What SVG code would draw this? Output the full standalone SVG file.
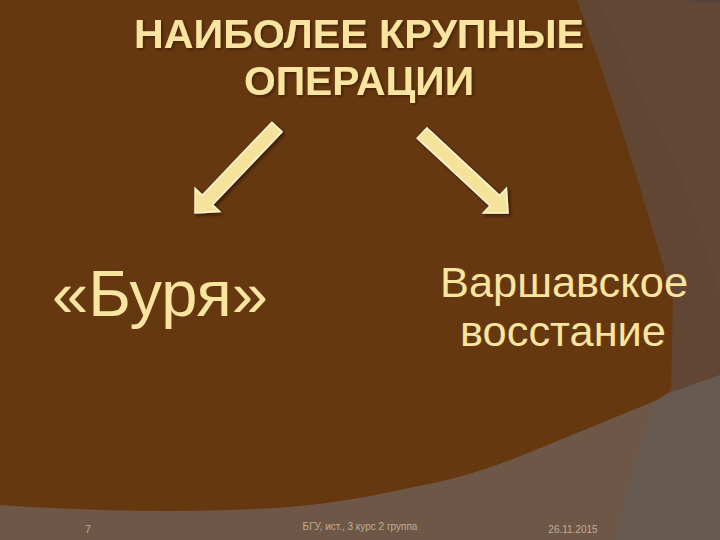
<svg xmlns="http://www.w3.org/2000/svg" width="720" height="540" viewBox="0 0 720 540">
<defs>
<style>
.t{font-family:"Liberation Sans",Arial,sans-serif;fill:#f9e4a0}
.title{font-weight:bold;font-size:40px}
.foot{font-family:"Liberation Sans",Arial,sans-serif;font-size:10px;fill:#bfae98}
.arrow{fill:#f6e39b;stroke:#fff6d6;stroke-width:1.5;stroke-linejoin:miter}
</style>
<filter id="sh" x="-20%" y="-20%" width="140%" height="140%">
<feDropShadow dx="2" dy="2" stdDeviation="1.5" flood-color="#2a1605" flood-opacity="0.7"/>
</filter>
<filter id="tsh" x="-5%" y="-20%" width="110%" height="140%">
<feDropShadow dx="1.5" dy="1.5" stdDeviation="0.8" flood-color="#2a1605" flood-opacity="0.6"/>
</filter>
</defs>
<g id="background">
<rect width="720" height="540" fill="#6e5746"/>
<path d="M540,0 H720 V375 L655,400 L540,438 Z" fill="#614733"/>
<path d="M596,0 H720 V300 Q690,180 640,90 Q620,45 596,0 Z" fill="#634935"/>
<path d="M655,398 L720,375 V540 H615 Q630,470 655,398 Z" fill="#665a51"/>
<rect x="690" y="0" width="30" height="3" fill="#54463c"/>
<path d="M0,0 H577 Q630,145 673,300 L671,388 Q666,396 655,401 L540,448 Q470,478 413,487 Q340,504 275,508 Q150,515 0,505 Z" fill="#653810"/>
</g>
<g id="title" filter="url(#tsh)">
<text class="t title" x="359" y="48" text-anchor="middle" textLength="450" lengthAdjust="spacingAndGlyphs">НАИБОЛЕЕ КРУПНЫЕ</text>
<text class="t title" x="359" y="95" text-anchor="middle" textLength="230" lengthAdjust="spacingAndGlyphs">ОПЕРАЦИИ</text>
</g>
<g id="connectors" filter="url(#sh)">
<polygon class="arrow" points="271.9,122.2 282.1,131.8 212.5,204.8 219.7,211.7 195,213 195.1,188.3 202.3,195.2"/>
<polygon class="arrow" points="426.8,127.9 417.2,138.1 490,205.8 483.2,213.1 508,213 506.4,188.3 499.6,195.6"/>
</g>
<g id="node-burya">
<text class="t" x="160" y="316" font-size="64" text-anchor="middle" textLength="216" lengthAdjust="spacingAndGlyphs">«Буря»</text>
</g>
<g id="node-warsaw">
<text class="t" x="564" y="297" font-size="43" text-anchor="middle" textLength="248" lengthAdjust="spacingAndGlyphs">Варшавское</text>
<text class="t" x="563" y="346" font-size="43" text-anchor="middle" textLength="206" lengthAdjust="spacingAndGlyphs">восстание</text>
</g>
<g id="footer">
<text class="foot" x="88" y="533" text-anchor="middle">7</text>
<text class="foot" x="360" y="530" text-anchor="middle">БГУ, ист., 3 курс 2 группа</text>
<text class="foot" x="573" y="533" text-anchor="middle">26.11.2015</text>
</g>
</svg>
